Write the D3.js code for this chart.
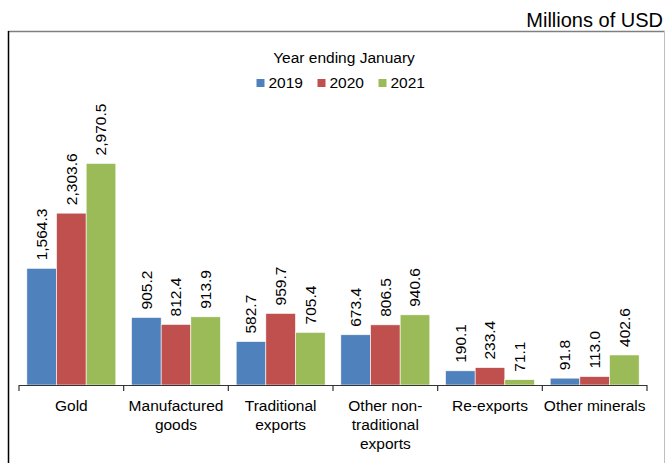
<!DOCTYPE html>
<html>

<head>
  <meta charset='utf-8'>
  <title>Exports by product</title>
  <script src="https://cdnjs.cloudflare.com/ajax/libs/d3/7.8.5/d3.min.js"></script>
  <style>
    body { margin: 0; background: #fff; }
    text { font-family: "Liberation Sans", Arial, sans-serif; fill: #000; }
  </style>
</head>

<body>

  <svg width="665" height="463" id="chart"></svg>
  <script>

    // year ending January, millions of USD
    const categories = [
      ['Gold'],
      ['Manufactured', 'goods'],
      ['Traditional', 'exports'],
      ['Other non-', 'traditional', 'exports'],
      ['Re-exports'],
      ['Other minerals']
    ];
    const years = ['2019', '2020', '2021'];
    const v2019 = [1564.3, 905.2, 582.7, 673.4, 190.1, 91.8];
    const v2020 = [2303.6, 812.4, 959.7, 806.5, 233.4, 113.0];
    const v2021 = [2970.5, 913.9, 705.4, 940.6, 71.1, 402.6];
    const series = [v2019, v2020, v2021];
    const colors = ['#4F81BD', '#C0504D', '#9BBB59'];

    const svg = d3.select('#chart');

    // frame
    svg.append('line').attr('x1', 8).attr('x2', 665).attr('y1', 31.5).attr('y2', 31.5)
      .attr('stroke', '#7f7f7f').attr('stroke-width', 1.5);
    svg.append('line').attr('x1', 8.5).attr('x2', 8.5).attr('y1', 31).attr('y2', 463)
      .attr('stroke', '#000').attr('stroke-width', 1.5);
    svg.append('line').attr('x1', 664.5).attr('x2', 664.5).attr('y1', 31).attr('y2', 463)
      .attr('stroke', '#bfbfbf').attr('stroke-width', 1);

    svg.append('text').attr('x', 663).attr('y', 27).attr('text-anchor', 'end')
      .style('font-size', '20px').text('Millions of USD');

    const x = d3.scaleBand()
      .domain(d3.range(categories.length))
      .range([19, 647])
      .paddingInner(0.15)
      .paddingOuter(0.075);

    const xs = d3.scaleBand()
      .domain(d3.range(years.length))
      .range([0, x.bandwidth()]);

    const y = d3.scaleLinear()
      .domain([0, 4000])
      .range([385, 86.6]);

    // bars
    const groups = svg.append('g').selectAll('g')
      .data(series)
      .join('g')
      .attr('fill', (d, i) => colors[i]);

    groups.each(function (vals, s) {
      const g = d3.select(this);
      g.selectAll('rect')
        .data(vals)
        .join('rect')
        .attr('x', (d, i) => x(i) + xs(s))
        .attr('width', xs.bandwidth())
        .attr('y', d => y(d))
        .attr('height', d => y(0) - y(d))
        .attr('stroke', '#fff')
        .attr('stroke-width', 0.6);

      g.selectAll('text')
        .data(vals)
        .join('text')
        .attr('transform', (d, i) => `translate(${x(i) + xs(s) + xs.bandwidth() / 2},${y(d) - 8}) rotate(-90)`)
        .attr('dy', '0.35em')
        .style('font-size', '15.5px')
        .style('fill', '#000')
        .text(d => d3.format(',.1f')(d));
    });

    // category axis: line with ticks between categories
    const axis = svg.append('g');
    axis.append('line')
      .attr('x1', x.range()[0]).attr('x2', x.range()[1])
      .attr('y1', y(0) + 0.5).attr('y2', y(0) + 0.5)
      .attr('stroke', '#333').attr('stroke-width', 1.2);
    axis.selectAll('.tick')
      .data(d3.range(categories.length + 1))
      .join('line')
      .attr('class', 'tick')
      .attr('x1', i => x.range()[0] + i * x.step())
      .attr('x2', i => x.range()[0] + i * x.step())
      .attr('y1', y(0)).attr('y2', y(0) + 6)
      .attr('stroke', '#333').attr('stroke-width', 1.2);

    axis.selectAll('.cat')
      .data(categories)
      .join('text')
      .attr('class', 'cat')
      .attr('text-anchor', 'middle')
      .style('font-size', '15.5px')
      .each(function (lines, i) {
        d3.select(this).selectAll('tspan')
          .data(lines)
          .join('tspan')
          .attr('x', x(i) + x.bandwidth() / 2)
          .attr('y', (d, j) => 410.5 + j * 19)
          .text(d => d);
      });

    // legend
    svg.append('text').attr('x', 344).attr('y', 62.5).attr('text-anchor', 'middle')
      .style('font-size', '15.5px').text('Year ending January');

    const legend = svg.append('g').selectAll('g')
      .data(years)
      .join('g')
      .attr('transform', (d, i) => `translate(${256.5 + i * 61},0)`);
    legend.append('rect')
      .attr('x', 0).attr('y', 79).attr('width', 8).attr('height', 8)
      .attr('fill', (d, i) => colors[i]);
    legend.append('text')
      .attr('x', 12).attr('y', 87.5)
      .style('font-size', '15.5px')
      .text(d => d);

  </script>

</body>

</html>
